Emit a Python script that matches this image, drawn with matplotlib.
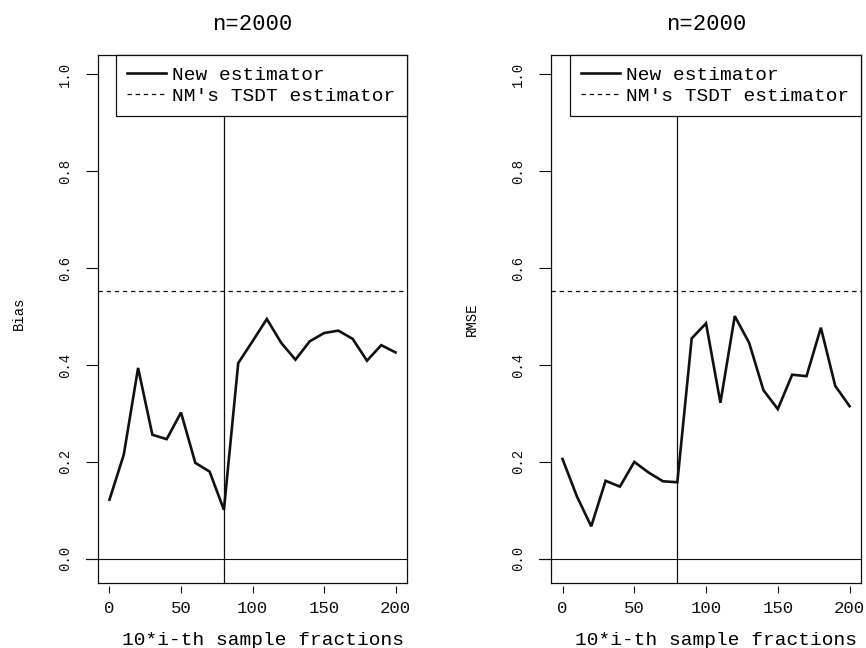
#!/usr/bin/env python3
"""Bias and RMSE of the new estimator against sample fraction, n=2000."""

import matplotlib

matplotlib.use("Agg")
import matplotlib.pyplot as plt

FONT = "Liberation Mono"

fractions = [0, 10, 20, 30, 40, 50, 60, 70, 80, 90, 100,
             110, 120, 130, 140, 150, 160, 170, 180, 190, 200]
bias_new = [0.122, 0.215, 0.394, 0.256, 0.247, 0.302, 0.198, 0.180, 0.101, 0.404, 0.449,
            0.495, 0.446, 0.411, 0.449, 0.466, 0.471, 0.454, 0.409, 0.441, 0.426]
rmse_new = [0.206, 0.129, 0.067, 0.161, 0.149, 0.200, 0.178, 0.160, 0.158, 0.455, 0.486,
            0.322, 0.501, 0.446, 0.348, 0.309, 0.380, 0.377, 0.477, 0.357, 0.315]
bias_tsdt = 0.553
rmse_tsdt = 0.553
cutoff = 80
x_ticks = [0, 50, 100, 150, 200]
y_ticks = [0.0, 0.2, 0.4, 0.6, 0.8, 1.0]
labels = ["New estimator", "NM's TSDT estimator"]
title = "n=2000"
x_label = "10*i-th sample fractions"

PANELS = [
    {"rect": (0.1132, 0.1003, 0.3568, 0.8148), "y": bias_new, "ref": bias_tsdt,
     "ylabel": "Bias", "ylab_y": 0.51},
    {"rect": (0.6363, 0.1003, 0.3580, 0.8148), "y": rmse_new, "ref": rmse_tsdt,
     "ylabel": "RMSE", "ylab_y": 0.50},
]


def draw_panel(fig, panel):
    ax = fig.add_axes(panel["rect"])
    # R style: x ticks hang just below the box (set before ticks, it resets them)
    ax.spines["bottom"].set_position(("outward", 2))
    ax.spines["bottom"].set_color("none")

    ax.plot(fractions, panel["y"], color="#111111", linewidth=1.9, label=labels[0],
            solid_joinstyle="miter", zorder=3)
    ax.axhline(panel["ref"], color="#111111", linewidth=0.9, dashes=(3.5, 3.0),
               label=labels[1], zorder=2)
    ax.axvline(cutoff, color="#111111", linewidth=0.9, zorder=2)
    ax.axhline(0.0, xmin=-0.039, xmax=1.0, color="#111111", linewidth=0.8,
               clip_on=False, zorder=2)

    ax.set_xlim(-8, 208)
    ax.set_ylim(-0.05, 1.04)
    ax.axhline(-0.05, color="#111111", linewidth=0.9, clip_on=False, zorder=4)
    for side in ("left", "right", "top"):
        ax.spines[side].set_linewidth(0.9)
        ax.spines[side].set_color("#111111")

    ax.set_xticks(x_ticks)
    ax.set_yticks(y_ticks)
    ax.set_xticklabels([str(v) for v in x_ticks], family=FONT, fontsize=12.5)
    ax.set_yticklabels([f"{v:.1f}" for v in y_ticks], family=FONT, fontsize=10,
                       rotation=90, va="center")
    ax.tick_params(axis="x", length=5, width=0.8, pad=6, colors="#111111")
    ax.tick_params(axis="y", length=8.6, width=0.8, pad=10, colors="#111111")

    ax.set_title(title, family=FONT, fontsize=16, pad=18)
    ax.set_xlabel(x_label, family=FONT, fontsize=14, va="center")
    ax.xaxis.set_label_coords(0.533, -0.108)
    ax.set_ylabel(panel["ylabel"], family=FONT, fontsize=10, va="center")
    ax.yaxis.set_label_coords(-0.255, panel["ylab_y"])

    leg = ax.legend(loc="upper right", bbox_to_anchor=(1.0, 1.0), borderaxespad=0,
                    prop={"family": FONT, "size": 14}, frameon=True, fancybox=False,
                    edgecolor="#111111", framealpha=1.0, borderpad=0.6,
                    handlelength=2.0, handletextpad=0.3, labelspacing=0.15)
    leg.get_frame().set_linewidth(0.9)
    return ax


def main():
    fig = plt.figure(figsize=(8.66, 6.48), dpi=100)
    for panel in PANELS:
        draw_panel(fig, panel)
    fig.savefig("out.png", dpi=100, facecolor="white")
    plt.close(fig)


if __name__ == "__main__":
    main()
